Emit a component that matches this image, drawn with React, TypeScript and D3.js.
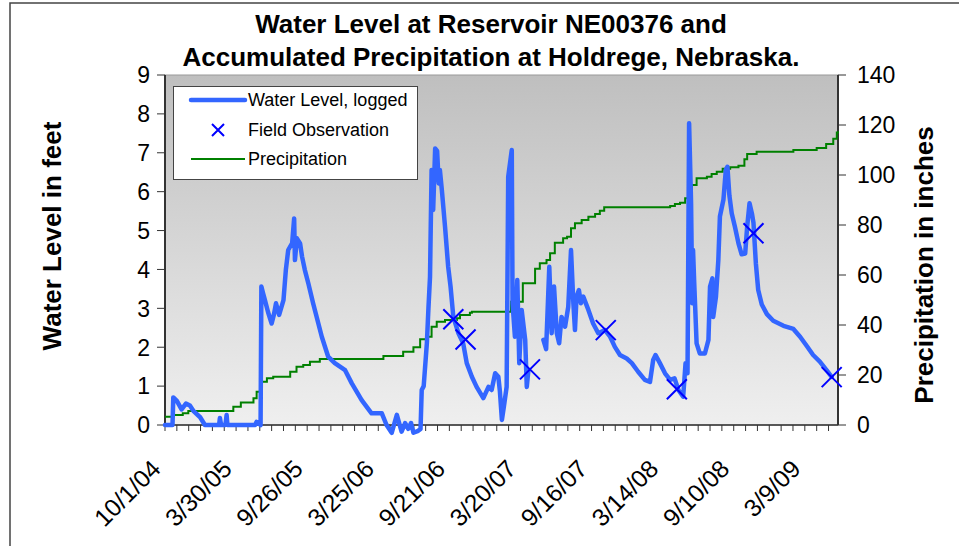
import React from "react";
import * as d3 from "d3";

// chart text
const titleLines = [
  "Water Level at Reservoir NE00376 and",
  "Accumulated Precipitation at Holdrege, Nebraska.",
];
const leftTitle = "Water Level in feet";
const rightTitle = "Precipitation in inches";
const legendLabels = ["Water Level, logged", "Field Observation", "Precipitation"];

// axes
const leftTicks = [0, 1, 2, 3, 4, 5, 6, 7, 8, 9];
const rightTicks = [0, 20, 40, 60, 80, 100, 120, 140];
const xLabels = ["10/1/04", "3/30/05", "9/26/05", "3/25/06", "9/21/06", "3/20/07", "9/16/07", "3/14/08", "9/10/08", "3/9/09"];
const xDomain = ["2004-10-01", "2009-06-01"];

// logged water level, feet (null = no record)
const waterLevel: [string, number | null][] = [
  ["2004-10-01", 0], ["2004-10-20", 0], ["2004-10-22", 0.71], ["2004-10-31", 0.62],
  ["2004-11-12", 0.4], ["2004-11-23", 0.55], ["2004-12-03", 0.5], ["2004-12-13", 0.35],
  ["2004-12-29", 0.2], ["2005-01-10", 0], ["2005-02-15", 0], ["2005-02-17", 0.18],
  ["2005-02-20", 0], ["2005-03-03", 0], ["2005-03-06", 0.26], ["2005-03-08", 0],
  ["2005-05-17", 0], ["2005-05-21", 0.08], ["2005-05-31", 0], ["2005-06-02", 3.56],
  ["2005-06-06", 3.4], ["2005-06-11", 3.21], ["2005-06-19", 2.9], ["2005-06-28", 2.61],
  ["2005-07-04", 2.85], ["2005-07-09", 3.13], ["2005-07-17", 2.83], ["2005-07-28", 3.21],
  ["2005-08-03", 3.99], ["2005-08-09", 4.5], ["2005-08-19", 4.68], ["2005-08-24", 5.31],
  ["2005-08-26", 4.24], ["2005-08-31", 4.8], ["2005-09-08", 4.67], ["2005-09-13", 4.33],
  ["2005-09-20", 3.99], ["2005-09-29", 3.64], ["2005-10-11", 3.13], ["2005-11-02", 2.27],
  ["2005-11-18", 1.76], ["2005-12-05", 1.59], ["2005-12-31", 1.41], ["2006-01-17", 1.07],
  ["2006-02-11", 0.64], ["2006-03-08", 0.3], ["2006-04-03", 0.3], ["2006-04-15", 0],
  ["2006-04-28", -0.2], ["2006-05-11", 0.26], ["2006-05-23", -0.17], ["2006-06-01", 0.05],
  ["2006-06-09", -0.1], ["2006-06-16", 0.05], ["2006-06-22", -0.2], ["2006-07-04", -0.15],
  ["2006-07-10", -0.1], ["2006-07-13", 0.9], ["2006-07-18", 1.0], ["2006-07-26", 2.1],
  ["2006-07-30", 3.0], ["2006-08-03", 3.81], ["2006-08-07", 6.56], ["2006-08-11", 5.53],
  ["2006-08-16", 7.11], ["2006-08-21", 7.05], ["2006-08-25", 6.21], ["2006-08-28", 6.56],
  ["2006-09-02", 6.04], ["2006-09-10", 5.1], ["2006-09-18", 4.07], ["2006-09-24", 3.56],
  ["2006-10-01", 2.78], ["2006-10-14", 2.36], ["2006-10-26", 2.1], ["2006-11-04", 1.59],
  ["2006-11-17", 1.24], ["2006-11-29", 0.98], ["2006-12-16", 0.69], ["2006-12-29", 0.98],
  ["2007-01-06", 0.9], ["2007-01-15", 1.33], ["2007-01-23", 1.24], ["2007-01-27", 0.86],
  ["2007-02-01", 0.13], ["2007-02-06", 0.47], ["2007-02-13", 0.98], ["2007-02-17", 6.38],
  ["2007-02-26", 7.07], ["2007-02-28", 3.13], ["2007-03-06", 2.27], ["2007-03-12", 3.73],
  ["2007-03-17", 1.59], ["2007-03-23", 2.96], ["2007-04-01", 2.19], ["2007-04-05", 0.98],
  ["2007-04-09", 1.4], ["2007-04-20", null],
  ["2007-05-17", 2.19], ["2007-05-24", 1.95], ["2007-06-01", 4.07], ["2007-06-07", 2.36],
  ["2007-06-13", 3.56], ["2007-06-20", 2.36], ["2007-06-26", 2.1], ["2007-07-02", 2.78],
  ["2007-07-11", 2.53], ["2007-07-19", 3.04], ["2007-07-26", 4.5], ["2007-08-01", 3.13],
  ["2007-08-05", 2.44], ["2007-08-09", 3.3], ["2007-08-15", 3.47], ["2007-08-20", 3.13],
  ["2007-08-26", 3.3], ["2007-09-08", 2.96], ["2007-09-20", 2.61], ["2007-10-03", 2.36],
  ["2007-10-20", 2.44], ["2007-11-02", 2.27], ["2007-11-14", 2.01], ["2007-11-27", 1.8],
  ["2007-12-14", 1.71], ["2007-12-27", 1.59], ["2008-01-12", 1.37], ["2008-01-29", 1.16],
  ["2008-02-11", 1.11], ["2008-02-19", 1.67], ["2008-02-25", 1.8], ["2008-03-07", 1.59],
  ["2008-03-20", 1.33], ["2008-04-02", 1.16], ["2008-04-13", 1.2], ["2008-04-23", 0.9],
  ["2008-05-05", 0.73], ["2008-05-11", 1.59], ["2008-05-16", 1.33], ["2008-05-20", 7.76],
  ["2008-05-25", 5.7], ["2008-05-28", 3.13], ["2008-05-30", 4.5], ["2008-06-02", 3.64],
  ["2008-06-08", 2.1], ["2008-06-16", 1.84], ["2008-06-29", 1.84], ["2008-07-08", 2.19],
  ["2008-07-12", 3.56], ["2008-07-18", 3.77], ["2008-07-20", 2.78], ["2008-07-27", 3.3],
  ["2008-08-02", 4.24], ["2008-08-06", 5.36], ["2008-08-15", 5.8], ["2008-08-21", 6.56],
  ["2008-08-25", 6.64], ["2008-08-30", 5.9], ["2008-09-05", 5.44], ["2008-09-13", 5.1],
  ["2008-09-22", 4.67], ["2008-09-30", 4.39], ["2008-10-09", 4.41], ["2008-10-14", 5.1],
  ["2008-10-20", 5.7], ["2008-10-26", 5.44], ["2008-10-30", 5.2], ["2008-11-05", 4.16],
  ["2008-11-11", 3.47], ["2008-11-20", 3.1], ["2008-12-03", 2.85], ["2008-12-19", 2.68],
  ["2009-01-14", 2.55], ["2009-02-08", 2.47], ["2009-02-25", 2.27], ["2009-03-14", 2.03],
  ["2009-03-30", 1.8], ["2009-04-16", 1.63], ["2009-05-03", 1.41], ["2009-05-16", 1.24],
];

// field observations, feet
const fieldObs: [string, number][] = [
  ["2006-10-01", 2.72], ["2006-11-01", 2.2], ["2007-04-13", 1.43], ["2007-10-22", 2.44],
  ["2008-04-19", 0.92], ["2008-10-30", 4.93], ["2009-05-16", 1.23],
];

// accumulated precipitation, inches
const precipitation: [string, number][] = [
  ["2004-10-01", 3.3], ["2004-10-22", 4.0], ["2004-11-15", 4.7], ["2004-11-29", 5.6],
  ["2005-03-23", 7.3], ["2005-04-11", 9.0], ["2005-05-13", 10.7], ["2005-05-21", 13.3],
  ["2005-06-03", 17.3], ["2005-06-16", 18.7], ["2005-07-02", 19.3], ["2005-08-14", 21.3],
  ["2005-08-30", 23.3], ["2005-09-16", 24.0], ["2005-10-03", 25.3], ["2005-10-28", 26.4],
  ["2006-04-07", 27.6], ["2006-05-27", 29.3], ["2006-06-22", 31.1], ["2006-07-09", 34.3],
  ["2006-07-26", 35.3], ["2006-08-07", 39.3], ["2006-08-20", 41.3], ["2006-09-10", 42.0],
  ["2006-10-10", 42.7], ["2006-10-18", 44.0], ["2006-11-12", 44.9], ["2006-11-17", 45.3],
  ["2007-02-24", 49.3], ["2007-03-26", 56.7], ["2007-04-26", 62.5], ["2007-05-08", 64.7],
  ["2007-05-25", 66.0], ["2007-06-03", 68.7], ["2007-06-15", 72.9], ["2007-07-06", 74.7],
  ["2007-07-16", 75.3], ["2007-07-26", 78.7], ["2007-08-05", 80.7], ["2007-08-22", 82.0],
  ["2007-09-08", 83.3], ["2007-09-25", 84.4], ["2007-10-07", 85.7], ["2007-10-18", 87.1],
  ["2008-04-02", 87.6], ["2008-04-14", 88.4], ["2008-04-27", 88.9], ["2008-05-10", 90.7],
  ["2008-05-18", 93.3], ["2008-05-27", 96.0], ["2008-06-08", 98.7], ["2008-07-04", 99.3],
  ["2008-07-16", 100.4], ["2008-07-29", 101.3], ["2008-08-13", 102.5], ["2008-09-01", 103.1],
  ["2008-09-22", 103.7], ["2008-10-07", 106.3], ["2008-10-14", 108.4], ["2008-11-07", 109.3],
  ["2009-02-08", 110.0], ["2009-04-08", 110.8], ["2009-05-02", 112.4], ["2009-05-20", 114.5],
  ["2009-05-29", 117.0], ["2009-06-01", 117.5],
];

const W = 959;
const H = 546;
const plot = { left: 165, top: 75, right: 838, bottom: 425 };
const font = "Arial, 'Liberation Sans', sans-serif";
const blue = "#3366ff";

const iso = d3.timeParse("%Y-%m-%d");
const mdy = d3.timeParse("%m/%d/%y");

export default function App() {
  const start = iso(xDomain[0]) as Date;
  const end = iso(xDomain[1]) as Date;
  const x = d3.scaleTime().domain([start, end]).range([plot.left, plot.right]);
  const yL = d3.scaleLinear().domain([0, 9]).range([plot.bottom, plot.top]);
  const yR = d3.scaleLinear().domain([0, 140]).range([plot.bottom, plot.top]);

  // minor ticks every 30 days from the axis start
  const minorTicks = d3.range(0, d3.timeDay.count(start, end), 30).map((d) => d3.timeDay.offset(start, d));

  const waterPath = d3
    .line<[string, number | null]>()
    .defined((d) => d[1] !== null)
    .x((d) => x(iso(d[0]) as Date))
    .y((d) => yL(d[1] as number))(waterLevel);

  const precipPath = d3
    .line<[string, number]>()
    .curve(d3.curveStepAfter)
    .x((d) => x(iso(d[0]) as Date))
    .y((d) => yR(d[1]))(precipitation);

  const cross = (cx: number, cy: number, r: number) =>
    `M${cx - r},${cy - r}L${cx + r},${cy + r}M${cx - r},${cy + r}L${cx + r},${cy - r}`;

  const legendY = [100, 130, 159];

  return (
    <div style={{ position: "absolute", left: 0, top: 0 }}>
      <svg width={W} height={H} style={{ display: "block", fontFamily: font }}>
        <defs>
          <linearGradient id="plotBg" x1="0" y1="0" x2="0" y2="1">
            <stop offset="0" stopColor="#bfbfbf" />
            <stop offset="1" stopColor="#efefef" />
          </linearGradient>
        </defs>
        <rect x={0} y={0} width={W} height={H} fill="#fff" />
        <rect x={10} y={3} width={W + 20} height={H + 20} fill="none" stroke="#444" strokeWidth={1.5} />

        {titleLines.map((t, i) => (
          <text key={t} x={491} y={33 + i * 33} textAnchor="middle" fontSize={26} fontWeight="bold">
            {t}
          </text>
        ))}

        <rect x={plot.left} y={plot.top} width={plot.right - plot.left} height={plot.bottom - plot.top} fill="url(#plotBg)" stroke="#999" />

        {/* axes */}
        <g stroke="#333" fill="none">
          <line x1={plot.left} x2={plot.left} y1={plot.top} y2={plot.bottom} strokeWidth={2} />
          <line x1={plot.right} x2={plot.right} y1={plot.top} y2={plot.bottom} strokeWidth={2} />
          <line x1={plot.left} x2={plot.right} y1={plot.bottom} y2={plot.bottom} strokeWidth={1.5} />
          {leftTicks.map((t) => (
            <line key={t} x1={plot.left - 8} x2={plot.left} y1={yL(t)} y2={yL(t)} />
          ))}
          {rightTicks.map((t) => (
            <line key={t} x1={plot.right} x2={plot.right + 8} y1={yR(t)} y2={yR(t)} />
          ))}
          {minorTicks.map((d, i) => (
            <line key={i} x1={x(d)} x2={x(d)} y1={plot.bottom} y2={plot.bottom + 6} />
          ))}
        </g>

        {leftTicks.map((t) => (
          <text key={t} x={plot.left - 15} y={yL(t)} dy="0.36em" textAnchor="end" fontSize={23}>
            {t}
          </text>
        ))}
        {rightTicks.map((t) => (
          <text key={t} x={plot.right + 19} y={yR(t)} dy="0.36em" fontSize={23}>
            {t}
          </text>
        ))}
        {xLabels.map((l) => {
          const px = x(mdy(l) as Date);
          return (
            <text key={l} transform={`translate(${px - 9},${plot.bottom + 39}) rotate(-45)`} textAnchor="end" dy="0.36em" fontSize={24.5}>
              {l}
            </text>
          );
        })}

        <text transform={`translate(61,236) rotate(-90)`} textAnchor="middle" fontSize={26} fontWeight="bold">
          {leftTitle}
        </text>
        <text transform={`translate(933,265) rotate(-90)`} textAnchor="middle" fontSize={26} fontWeight="bold">
          {rightTitle}
        </text>

        {/* series */}
        <path d={precipPath ?? ""} fill="none" stroke="#008000" strokeWidth={2} />
        <path d={waterPath ?? ""} fill="none" stroke={blue} strokeWidth={4.5} strokeLinejoin="round" strokeLinecap="round" />
        <g stroke="#0000ff" strokeWidth={2}>
          {fieldObs.map((d) => (
            <path key={d[0]} d={cross(x(iso(d[0]) as Date), yL(d[1]), 10)} />
          ))}
        </g>

        {/* legend */}
        <rect x={173.5} y={86.5} width={244} height={93} fill="#fff" stroke="#444" />
        <line x1={191} x2={245} y1={legendY[0]} y2={legendY[0]} stroke={blue} strokeWidth={4.5} strokeLinecap="round" />
        <path d={cross(218, legendY[1], 6)} stroke="#0000ff" strokeWidth={2} />
        <line x1={191} x2={245} y1={legendY[2]} y2={legendY[2]} stroke="#008000" strokeWidth={2} />
        {legendLabels.map((l, i) => (
          <text key={l} x={248} y={legendY[i]} dy="0.36em" fontSize={18}>
            {l}
          </text>
        ))}
      </svg>
    </div>
  );
}
